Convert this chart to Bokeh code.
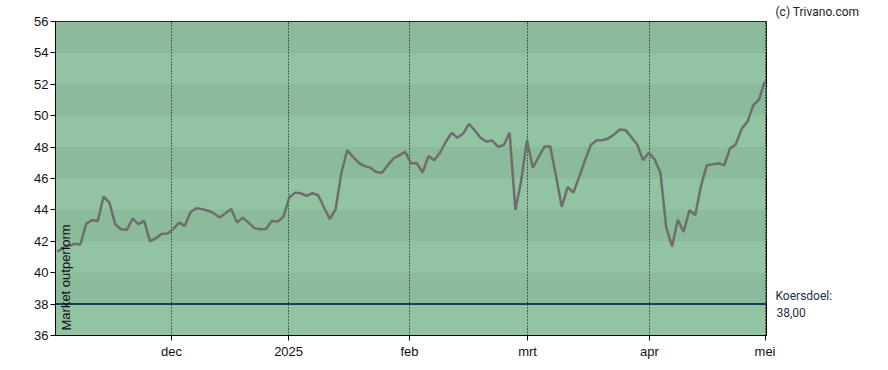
from bokeh.plotting import figure
from bokeh.layouts import row
from bokeh.models import Range1d, FixedTicker, Span, Label, Title
from bokeh.core.properties import value
from bokeh.embed import file_html
from bokeh.resources import INLINE

# Daily closing prices (trading-day index 0..122), Nov 2024 - Apr 2025
prices = [
    41.35, 41.55, 41.70, 41.84, 41.80, 43.13, 43.35, 43.30, 44.85, 44.46,
    43.09, 42.77, 42.73, 43.45, 43.09, 43.30, 41.99, 42.20, 42.46, 42.50,
    42.77, 43.19, 42.98, 43.87, 44.10, 44.05, 43.95, 43.79, 43.51, 43.79,
    44.06, 43.19, 43.51, 43.19, 42.84, 42.77, 42.79, 43.30, 43.26, 43.56,
    44.78, 45.10, 45.06, 44.89, 45.06, 44.93, 44.15, 43.41, 44.04, 46.37,
    47.79, 47.38, 47.00, 46.79, 46.69, 46.41, 46.37, 46.84, 47.28, 47.49,
    47.70, 46.97, 46.97, 46.37, 47.43, 47.17, 47.64, 48.34, 48.91, 48.59,
    48.87, 49.48, 49.06, 48.59, 48.34, 48.43, 48.02, 48.13, 48.91, 44.00,
    45.88, 48.44, 46.69, 47.37, 48.02, 48.06, 46.16, 44.19, 45.46, 45.10,
    46.11, 47.16, 48.13, 48.43, 48.44, 48.55, 48.80, 49.12, 49.08, 48.63,
    48.17, 47.17, 47.64, 47.22, 46.37, 42.88, 41.67, 43.37, 42.60, 43.98,
    43.68, 45.52, 46.84, 46.90, 46.97, 46.84, 47.92, 48.17, 49.16, 49.61,
    50.65, 51.03, 52.19,
]
days = list(range(len(prices)))

tick_pos = [19.7, 39.9, 60.74, 81.09, 102.09, 122.12]
tick_labels = ["dec", "2025", "feb", "mrt", "apr", "mei"]
y_ticks = [36, 38, 40, 42, 44, 46, 48, 50, 52, 54, 56]

target = 38.0
target_label = "38,00"
rating = "Market outperform"
copyright_text = "(c) Trivano.com"

DARK = "#8bbb9b"
LIGHT = "#92c3a3"
FONT = "Liberation Sans"

# layout constants (pixels)
H = 370
TOP, BOTTOM = 20, 35
LEFT, FRAME_W, RIGHT = 55, 711, 9
Y0, Y1 = 36, 56
X0, X1 = -0.29, 122.29

p = figure(width=LEFT + FRAME_W + RIGHT, height=H, output_backend="svg",
           toolbar_location=None,
           x_range=Range1d(X0, X1), y_range=Range1d(Y0, Y1),
           min_border_left=LEFT, min_border_right=RIGHT, min_border_top=TOP,
           min_border_bottom=BOTTOM)
p.background_fill_color = LIGHT
p.border_fill_color = "white"
p.outline_line_color = "black"
p.outline_line_alpha = 1.0

xt = FixedTicker(ticks=tick_pos)
p.xaxis.ticker = xt
p.xaxis.major_label_overrides = dict(zip(tick_pos, tick_labels))
yt = FixedTicker(ticks=y_ticks)
p.yaxis.ticker = yt

for ax in (p.xaxis[0], p.yaxis[0]):
    ax.axis_line_color = "black"
    ax.major_tick_line_color = "black"
    ax.major_tick_out = 5
    ax.major_tick_in = 0
    ax.minor_tick_line_color = None
    ax.major_label_text_font = FONT
    ax.major_label_text_font_size = "13px"
    ax.major_label_text_color = "#111111"
p.yaxis.major_label_standoff = 2
p.xaxis.major_label_standoff = 3

xg = p.xgrid[0]
yg = p.ygrid[0]
xg.ticker = xt
xg.grid_line_color = "black"
xg.grid_line_dash = "1 2"
xg.grid_line_width = 1
yg.ticker = yt
yg.grid_line_color = None
yg.band_fill_color = DARK
yg.band_fill_alpha = 1.0
p.center = [yg, xg]

p.line(days, prices, line_color="#6e6e6e", line_width=2.5)
p.add_layout(Span(location=target, dimension="width", line_color="#153e5c",
                  line_width=2))

p.add_layout(Label(x=X0, y=Y0, x_offset=3, y_offset=5, text=rating, angle=1.5708,
                   text_align="left", text_baseline="top", text_font=FONT,
                   text_font_size="13px", text_color="#111111"))

# side panel with the texts right of the chart (frame aligned with main plot)
side = figure(width=888 - (LEFT + FRAME_W + RIGHT), height=H, output_backend="svg",
              toolbar_location=None, x_axis_type=None, y_axis_type=None,
              x_range=Range1d(0, 1), y_range=Range1d(Y0, Y1),
              min_border_left=0, min_border_right=0,
              min_border_top=TOP, min_border_bottom=BOTTOM)
side.outline_line_color = None
side.background_fill_color = "white"
side.border_fill_color = "white"
side.grid.visible = False
side.add_layout(Title(text=copyright_text, align="left", standoff=5,
                      text_font="Roboto", text_font_size="12px",
                      text_font_style="normal", text_color="#222222"), "above")

side.text(x=[0], y=[target], text=["Koersdoel:"], x_offset=0, y_offset=-8,
          text_align="left", text_baseline="middle", text_font=value("Roboto"),
          text_font_size=value("12px"), text_color="#1d3045")
side.text(x=[0], y=[target], text=[" " + target_label], x_offset=1, y_offset=9,
          text_align="left", text_baseline="middle", text_font=value("Roboto"),
          text_font_size=value("12px"), text_color="#1d3045")

layout = row(p, side, spacing=0)
open("out.html", "w").write(file_html(layout, INLINE))
